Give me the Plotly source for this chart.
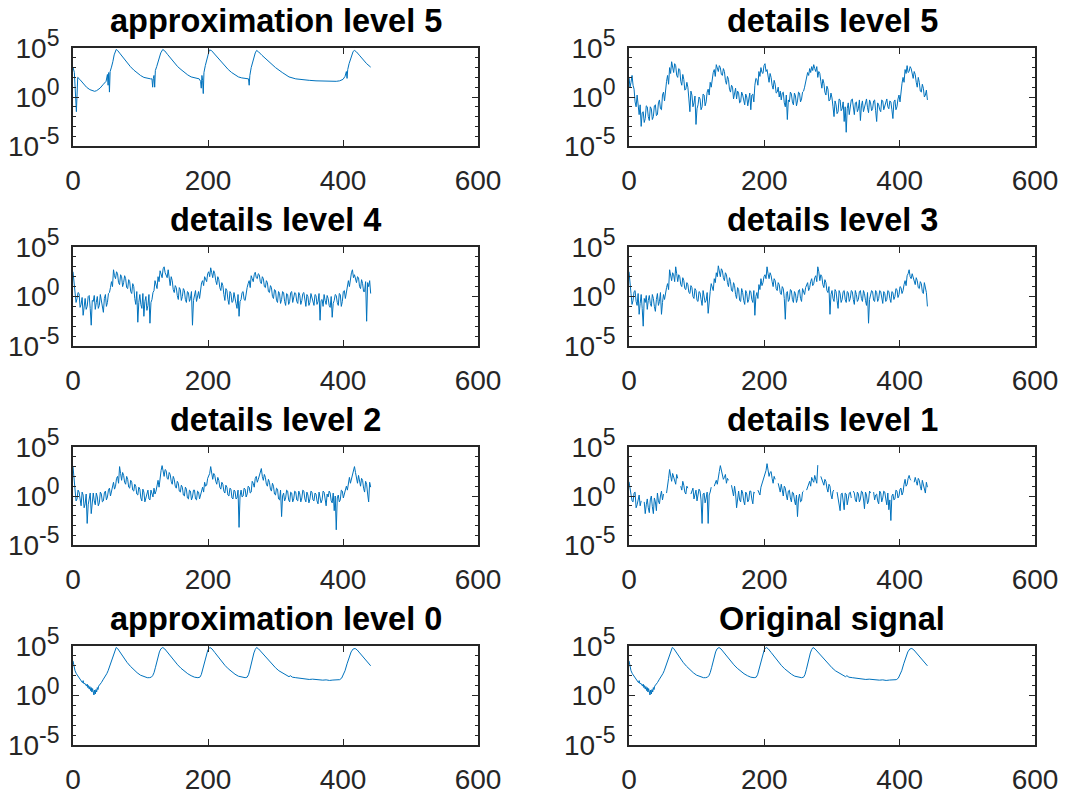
import plotly.graph_objects as go

# ---------------- data (log10 of the plotted values) ----------------
# smooth signal (original signal == approximation level 0)
sig_x = [0, 1, 3, 5, 8, 10, 12, 14, 15, 16, 18, 20, 21, 22, 23, 24, 25, 26, 27, 28,
         29, 30, 31, 32, 33, 34, 35, 36, 37, 38, 40, 42, 45, 48, 50, 52, 54, 56, 58, 60,
         62, 64, 66, 68, 70, 75, 80, 85, 90, 95, 100, 105, 110, 113, 116, 118, 120, 122, 124, 126,
         128, 130, 133, 136, 140, 145, 150, 155, 160, 165, 170, 175, 180, 185, 188, 190, 192, 194, 196, 198,
         200, 203, 206, 210, 215, 220, 225, 230, 235, 240, 245, 250, 255, 258, 260, 262, 264, 266, 268, 270,
         272, 275, 280, 285, 290, 295, 300, 305, 310, 315, 318, 320, 322, 325, 330, 340, 345, 350, 355, 360,
         370, 375, 380, 385, 390, 395, 398, 400, 403, 406, 409, 412, 415, 418, 421, 425, 430, 435, 441]
sig_log = [3.5, 3.0, 2.5, 2.2, 1.9, 1.7, 1.55, 1.3, 1.5, 1.2, 1.2, 0.95, 1.15, 0.8, 1.0, 0.65, 0.9, 0.5, 0.8, 0.35,
           0.7, 0.25, 0.05, 0.55, 0.15, 0.6, 0.35, 0.8, 0.6, 0.95, 1.1, 1.3, 1.65, 1.95, 2.2, 2.5, 2.9, 3.3, 3.75, 4.2,
           4.6, 4.85, 4.75, 4.55, 4.3, 3.8, 3.35, 2.95, 2.6, 2.3, 2.05, 1.9, 1.8, 1.8, 1.85, 2.0, 2.3, 2.8, 3.4, 3.9,
           4.4, 4.7, 4.85, 4.7, 4.35, 3.9, 3.5, 3.1, 2.75, 2.45, 2.2, 2.0, 1.85, 1.8, 1.85, 2.1, 2.6, 3.2, 3.8, 4.3,
           4.65, 4.85, 4.7, 4.35, 3.9, 3.45, 3.05, 2.7, 2.4, 2.15, 1.95, 1.85, 1.8, 1.85, 2.1, 2.6, 3.2, 3.8, 4.3, 4.65,
           4.85, 4.7, 4.3, 3.9, 3.5, 3.15, 2.8, 2.5, 2.3, 2.1, 2.05, 1.9, 2.0, 1.85, 1.8, 1.7, 1.72, 1.62, 1.65, 1.6,
           1.55, 1.58, 1.52, 1.56, 1.55, 1.6, 1.75, 2.0, 2.5, 3.2, 3.9, 4.4, 4.7, 4.75, 4.6, 4.3, 3.85, 3.45, 3.0]

# approximation level 5
a5_x = [0, 2, 5, 7, 10, 15, 20, 25, 30, 32, 35, 40, 45, 49, 51, 52, 53, 54, 55, 56,
        57, 59, 61, 64, 66, 70, 75, 80, 85, 90, 95, 100, 105, 110, 115, 117, 118, 119, 120, 121,
        122, 124, 127, 130, 133, 136, 140, 145, 150, 155, 160, 165, 170, 175, 180, 187, 189, 190, 191, 192,
        193, 194, 196, 199, 202, 205, 210, 215, 220, 225, 230, 235, 240, 245, 250, 258, 260, 261, 262, 264,
        267, 270, 272, 275, 280, 290, 300, 310, 320, 330, 340, 350, 360, 370, 380, 390, 395, 400, 403, 405,
        406, 407, 409, 412, 415, 417, 420, 425, 430, 435, 441]
a5_log = [3.05, 2.5, -1.5, 2.0, 1.8, 1.35, 1.0, 0.75, 0.6, 0.58, 0.65, 0.9, 1.3, 1.6, 2.3, 1.2, 2.5, 0.5, 2.6, 3.0,
          3.05, 3.6, 4.3, 4.85, 4.75, 4.4, 3.95, 3.5, 3.1, 2.75, 2.45, 2.2, 2.0, 1.9, 1.85, 1.85, 1.0, 1.9, 2.2, 1.0,
          2.7, 3.1, 3.8, 4.5, 4.85, 4.7, 4.35, 3.9, 3.5, 3.1, 2.8, 2.5, 2.25, 2.05, 1.95, 1.85, 1.6, 0.9, 2.2, 1.7,
          0.35, 2.5, 3.2, 4.1, 4.8, 4.75, 4.35, 3.9, 3.5, 3.15, 2.8, 2.5, 2.25, 2.05, 1.95, 1.85, 1.85, 1.2, 2.2, 3.0,
          3.8, 4.5, 4.75, 4.6, 4.25, 3.6, 3.0, 2.5, 2.05, 1.85, 1.75, 1.7, 1.65, 1.62, 1.6, 1.6, 1.65, 1.8, 2.1, 2.6,
          1.9, 2.8, 3.4, 4.1, 4.65, 4.75, 4.6, 4.2, 3.8, 3.4, 3.05]

# detail coefficients: "main" samples at x = 0, 3, ..., 441 and "mid" samples at x = 1.5, 4.5, ..., 439.5
# (None = value not drawable on the log axis)
d5_main = [2.0, 1.5, 1.2, -0.5, 0.2, -1.8, -3.0, -1.5, -2.2, -1.0,
           -2.4, -1.2, -2.0, -0.8, -1.8, -0.3, -1.3, 0.5, 0.8, 2.2,
           3.0, 3.6, 2.5, 3.2, 2.0, 2.8, 1.2, 1.8, 0.8, 1.0,
           -1.5, 0.2, -0.6, -2.8, -0.8, -0.2, -1.0, 0.2, -0.5, 0.8,
           1.5, 2.0, 2.8, 3.3, 2.6, 3.0, 2.2, 2.6, 1.3, 1.8,
           0.5, 1.0, 0.3, -0.2, 0.4, -0.5, 0.2, -0.8, 0.0, -0.4,
           -1.3, 0.3, 1.2, 1.8, 2.6, 3.0, 2.4, 3.4, 2.8, 1.5,
           2.0, 0.8, 1.3, 0.5, 0.0, -0.3, 0.5, -1.0, -2.3, -0.5,
           0.3, -0.8, 0.1, -0.4, 0.4, -0.2, 0.6, 1.5, 2.5, 2.9,
           3.1, 3.3, 2.6, 2.0, 2.4, 0.9, 1.4, 0.2, 0.8, -0.3,
           -0.1, -2.0, -0.8, -1.5, -0.3, -1.2, -2.5, -3.6, -0.6, -1.0,
           -0.2, -1.8, -0.5, -1.2, -2.4, -0.4, -1.0, -0.2, -1.6, -0.6,
           -1.2, -0.3, -2.5, -0.8, -1.5, -0.4, -1.0, -0.2, -1.2, -0.5,
           -2.2, -0.3, -1.0, 0.2, 0.8, 2.0, 2.8, 3.2, 2.6, 2.9,
           1.9, 2.3, 1.0, 1.5, 0.5, 0.9, 0.2, -0.3]
d5_mid = [1.0, 2.2, 0.8, -1.0, -0.6, -0.8, -1.6, -2.6, -0.9, -2.0,
          -1.0, -2.3, -0.9, -1.9, -0.6, -1.2, 0.2, -0.4, 1.6, 1.3,
          2.4, 3.1, 3.4, 2.2, 2.9, 1.6, 2.3, 0.7, 1.5, -0.2,
          0.6, -1.0, 0.1, -1.2, 0.0, -1.3, 0.3, -0.9, 0.5, 0.2,
          1.0, 2.5, 2.1, 2.9, 3.2, 2.3, 2.9, 1.7, 2.1, 0.8,
          1.2, -0.2, 0.9, 0.6, -0.6, 0.5, -0.4, 0.3, -0.9, 0.4,
          0.2, -0.5, 1.9, 1.2, 2.1, 2.5, 3.2, 2.6, 2.0, 2.4,
          1.2, 1.7, 0.4, 1.0, 0.6, 0.4, -0.6, 0.2, -0.3, 0.5,
          -0.5, 0.4, -0.9, 0.5, -0.5, 0.5, 1.0, 2.0, 2.2, 2.5,
          2.7, 2.9, 3.1, 2.6, 1.6, 1.8, 0.5, 1.1, -0.4, 0.4,
          -1.0, -0.4, -1.7, -0.2, -1.4, -0.5, -1.0, -1.2, -1.8, -0.3,
          -1.1, -0.6, -1.5, -0.3, -0.9, -1.5, -0.4, -1.1, -0.3, -1.4,
          -0.4, -1.4, -0.6, -1.3, -0.3, -1.3, -0.5, -1.0, -0.4, -1.3,
          -0.5, -1.3, -0.2, -0.5, 1.4, 1.5, 2.4, 2.5, 3.1, 2.2,
          2.6, 1.5, 2.0, 0.6, 1.3, 0.0, 0.7]

d4_main = [2.5, 0.6, -0.2, 0.3, -0.8, -1.9, -0.2, -1.0, 0.1, -2.9,
           -0.5, -1.3, 0.0, -0.9, -0.3, -1.6, 0.2, -0.6, 0.4, 1.5,
           2.7, 1.8, 2.3, 1.2, 2.0, 1.4, 1.8, 0.8, 1.5, 0.3,
           1.0, -0.8, -2.6, 0.2, -1.2, -2.0, 0.0, -0.9, -2.7, -0.3,
           0.6, 1.2, 2.0, 2.6, 1.9, 3.0, 2.2, 2.7, 1.1, 1.6,
           0.4, 0.9, -0.3, 0.7, 0.0, 0.6, -0.6, 0.4, -0.2, -2.9,
           0.1, -0.5, 0.5, 0.9, 1.6, 2.0, 1.5, 2.5, 2.9, 1.9,
           2.3, 1.2, 1.7, 0.6, 1.1, -0.4, 0.6, -0.8, 0.3, -0.5,
           0.0, -1.2, -2.0, -0.3, 0.5, -0.4, 0.9, 1.6, 2.1, 1.5,
           2.45, 1.8, 2.2, 1.3, 1.8, 0.9, 1.4, 0.4, 0.9, -0.2,
           0.6, -0.6, 0.3, -0.3, 0.4, -0.9, 0.2, -0.5, 0.5, -0.2,
           0.3, -0.7, 0.1, -0.4, 0.4, -1.0, 0.0, -0.6, -0.1, -0.9,
           0.1, -0.5, -2.4, -0.3, 0.2, -0.8, -0.2, -1.1, -2.1, -0.4,
           0.1, -0.9, 0.2, -0.5, 0.6, 0.4, 1.6, 2.1, 2.7, 2.2,
           1.4, 1.9, 0.8, 1.3, 0.5, -2.5, 1.0, 0.3]
d4_mid = [1.2, -0.6, 0.4, -1.1, -0.1, -0.7, -1.3, 0.0, -1.2, -0.4,
          0.1, -0.6, -1.2, 0.2, -1.0, -0.2, -1.0, 0.3, 0.9, 1.0,
          2.1, 2.5, 1.4, 2.2, 1.0, 2.1, 0.9, 1.7, 0.5, 1.3,
          -0.2, 0.5, -0.6, -0.8, 0.3, -0.5, -1.4, 0.2, -0.6, 0.4,
          1.6, 0.8, 1.5, 2.2, 2.8, 2.4, 1.9, 1.6, 2.0, 0.7,
          1.1, 0.1, 0.9, -0.4, 0.8, -0.3, 0.5, -0.5, 0.5, -0.4,
          0.6, 0.2, -0.2, 1.4, 1.1, 1.7, 2.3, 2.0, 2.4, 2.6,
          1.6, 2.0, 0.9, 1.4, 0.2, 0.8, -0.3, 0.5, -0.6, 0.4,
          -0.7, 0.2, -0.5, 0.4, -0.3, 0.6, 1.3, 0.9, 1.8, 2.2,
          1.9, 2.3, 1.5, 2.0, 1.0, 1.6, 0.5, 1.1, 0.0, 0.7,
          -0.4, 0.5, -0.7, 0.5, -0.5, 0.3, -0.8, 0.4, -0.6, 0.4,
          -0.5, 0.4, -0.8, 0.3, -0.6, 0.2, -0.9, 0.3, -0.5, 0.2,
          -0.8, 0.3, -0.4, -1.0, -0.4, 0.1, -0.9, 0.0, -0.7, 0.2,
          -0.6, 0.3, -1.0, 0.5, -0.2, 1.2, 1.0, 2.4, 1.9, 1.6,
          2.0, 1.0, 1.7, 0.5, 1.5, 1.4, 1.6]

d3_main = [2.5, 0.3, -0.4, 0.6, -0.9, -1.8, 0.2, -3.0, -0.6, -1.3,
           0.1, -1.0, -0.2, -1.5, 0.3, -0.5, -1.8, 0.2, 0.5, 1.3,
           2.7, 1.6, 2.2, 3.0, 1.5, 2.0, 1.0, 1.6, 0.7, 1.2,
           0.3, 0.9, -0.2, 0.6, -0.5, 0.4, -0.9, 0.1, -0.4, -1.7,
           0.5, 1.0, 1.8, 2.4, 3.1, 2.0, 2.6, 1.6, 2.2, 1.0,
           1.5, 0.5, 1.1, -0.2, 0.7, -0.5, 0.4, -0.8, 0.3, -0.3,
           0.5, -0.6, -1.9, 0.4, 1.2, 1.8, 1.4, 2.2, 3.0, 1.8,
           2.1, 1.0, 1.6, 0.6, 1.2, 0.2, 0.8, -2.3, 0.5, -0.3,
           0.6, -0.6, 0.3, -0.2, 0.7, -0.5, 0.4, 0.9, 1.4, 0.9,
           1.8, 1.3, 2.1, 3.0, 1.6, 2.0, 0.9, 1.4, 0.4, -1.8,
           0.6, -0.5, 0.5, -1.2, 0.3, -0.3, 0.6, -0.6, 0.4, -0.2,
           0.5, -0.8, 0.2, -0.3, 0.6, -0.5, 0.3, -0.9, -2.7, 0.1,
           0.5, -0.5, 0.4, -0.2, 0.5, -0.7, 0.3, -0.3, 0.5, -0.6,
           0.4, 0.0, 0.7, 0.2, 0.9, 0.6, 1.6, 2.1, 2.7, 1.8,
           2.0, 1.2, 1.6, 0.8, 1.3, 0.3, 1.0, -1.0]
d3_mid = [1.0, -0.8, 0.5, -0.5, 0.3, -0.7, -1.2, -0.2, 0.1, -0.4,
          -0.7, 0.2, -1.0, -0.3, -0.9, 0.4, -0.6, -0.3, 0.9, 0.7,
          1.9, 2.4, 1.5, 2.3, 2.2, 1.2, 1.9, 0.8, 1.4, 0.4,
          1.1, 0.0, 0.8, -0.4, 0.5, -0.3, 0.6, -0.6, 0.4, 0.0,
          1.3, 0.6, 1.4, 2.0, 2.5, 2.8, 1.9, 2.4, 1.4, 1.9,
          0.6, 1.4, 0.2, 0.9, -0.4, 0.8, -0.4, 0.6, -0.6, 0.6,
          -0.3, 0.6, 0.0, -0.2, 0.7, 1.1, 2.0, 1.8, 2.3, 2.4,
          1.5, 1.8, 0.8, 1.4, 0.4, 1.0, -0.2, 0.3, -0.5, 0.7,
          -0.3, 0.5, -0.6, 0.6, -0.2, 0.8, 0.2, 1.1, 0.6, 1.5,
          1.1, 1.9, 1.5, 2.5, 2.2, 1.2, 1.7, 0.6, 1.0, 0.2,
          -0.2, 0.7, -0.4, 0.6, -0.6, 0.5, -0.3, 0.5, -0.5, 0.6,
          -0.3, 0.6, -0.5, 0.5, -0.2, 0.6, -0.4, 0.4, -0.3, 0.6,
          -0.4, 0.6, -0.5, 0.6, -0.3, 0.5, -0.5, 0.6, -0.2, 0.5,
          -0.3, 0.8, -0.1, 1.0, 0.3, 1.2, 1.1, 2.3, 2.0, 2.3,
          1.5, 1.9, 0.9, 1.5, 0.5, 1.4, 0.4]

d2_main = [3.0, 0.5, -0.3, 0.4, -1.0, 0.1, -0.8, -2.8, -0.2, -1.8,
           0.3, -0.9, -0.1, -0.7, 0.2, -0.5, 0.5, -0.1, 0.8, 0.5,
           1.4, 1.0, 2.0, 3.0, 1.6, 2.1, 1.2, 1.7, 0.8, 1.4,
           0.5, 1.0, 0.1, 0.7, -0.5, 0.4, -0.2, 0.6, -0.4, 0.3,
           0.8, 0.5, 1.6, 2.2, 3.1, 2.0, 2.6, 1.7, 2.2, 1.2,
           1.7, 0.8, 1.3, 0.4, 0.9, 0.0, 0.7, -0.3, 0.5, -0.1,
           0.6, -0.4, 0.4, 0.1, 0.9, 1.4, 1.1, 2.0, 3.0, 1.7,
           2.1, 1.2, 1.6, 0.7, 1.2, 0.3, 0.9, 0.0, 0.7, -0.3,
           0.5, -0.2, -3.2, 0.6, 0.0, 0.7, 0.2, 0.9, 0.4, 1.3,
           1.8, 1.4, 2.0, 2.8, 1.6, 1.9, 1.0, 1.4, 0.5, 1.0,
           0.1, 0.7, -0.4, -2.1, 0.3, -0.2, 0.5, -0.6, 0.3, -0.3,
           0.4, -0.5, 0.2, -0.2, 0.5, -0.6, 0.1, -0.3, 0.4, -0.5,
           0.2, -0.8, 0.0, -0.4, 0.4, -1.0, -0.1, 0.3, -0.7, -1.5,
           -3.45, 0.1, -0.4, 0.5, 0.2, 1.0, 1.5, 1.3, 2.2, 3.0,
           1.8, 2.1, 1.0, 1.6, 0.4, 1.2, -0.6, 0.9]
d2_mid = [1.5, -0.5, 0.6, -0.6, 0.4, -1.2, 0.2, -0.9, 0.3, -0.4,
          -0.5, 0.3, -1.0, 0.4, -0.6, 0.3, -0.4, 0.6, 0.0, 1.0,
          0.7, 1.8, 1.3, 2.3, 2.4, 1.4, 2.0, 0.9, 1.6, 0.6,
          1.2, 0.2, 0.9, -0.2, 0.7, -0.6, 0.5, -0.3, 0.6, -0.1,
          0.2, 1.2, 0.9, 2.6, 2.4, 2.7, 1.8, 2.4, 1.5, 2.0,
          1.0, 1.5, 0.5, 1.1, 0.1, 0.9, -0.2, 0.6, -0.4, 0.6,
          -0.3, 0.5, -0.3, 0.7, 0.4, 1.0, 1.8, 2.3, 2.1, 2.3,
          1.5, 1.9, 0.9, 1.4, 0.5, 1.1, 0.1, 0.8, -0.2, 0.6,
          -0.3, 0.6, 0.0, -0.1, 0.8, -0.1, 1.0, 0.3, 1.5, 0.9,
          2.0, 1.7, 2.4, 2.0, 2.2, 1.2, 1.7, 0.7, 1.3, 0.2,
          0.8, -0.3, 0.6, 0.0, -0.5, 0.6, -0.4, 0.4, -0.6, 0.5,
          -0.4, 0.5, -0.6, 0.6, -0.3, 0.4, -0.7, 0.5, -0.4, 0.3,
          -0.5, 0.4, -0.7, 0.5, -0.4, 0.2, 0.5, -0.5, 0.3, 0.0,
          -0.2, -0.6, 0.6, -0.2, 0.9, 0.6, 1.9, 1.8, 2.6, 2.4,
          1.3, 1.5, 1.8, 0.8, 1.5, 0.2, 1.4]

d1_main = [1.45, 0.2, -0.6, 0.4, -0.9, 0.1, -0.5, None, -1.8, -0.3,
           -1.7, 0.0, -1.8, -0.6, 0.3, -0.8, 0.5, 0.2, None, 0.9,
           2.7, 1.5, 2.0, 1.2, 1.8, None, 0.6, 1.1, 0.2, 0.8,
           None, 0.5, -0.3, 0.6, 0.0, 0.5, -2.8, 0.3, -0.2, -2.8,
           0.4, None, 1.0, 1.6, 2.2, 3.1, 2.4, 1.9, 1.3, 1.6,
           None, 0.6, 1.0, -1.2, 0.5, -0.6, 0.3, -0.9, 0.2, -0.4,
           0.5, -0.8, 0.3, None, 0.2, 0.9, 1.5, 2.2, 3.3, 2.0,
           2.5, 1.3, 1.7, None, 0.8, 1.2, 0.0, 0.8, -0.4, 0.6,
           -0.6, 0.3, -0.9, -2.1, 0.2, -0.5, 0.5, None, 1.0, 1.5,
           1.9, 1.4, 1.8, 3.15, None, 1.6, 1.1, 1.5, 0.4, 1.0,
           -0.3, 0.6, None, -0.2, -1.5, 0.3, -1.4, 0.2, -0.4, 0.4,
           None, 0.3, -0.6, 0.2, -0.3, 0.4, -1.3, 0.1, -0.5, 0.3,
           None, -0.4, 0.2, -0.8, 0.3, -0.2, 0.4, -0.9, -1.4, -2.5,
           0.2, -0.3, 0.5, 0.0, 0.8, 0.4, 1.7, 1.2, 2.1, 1.6,
           None, 1.9, 1.1, 1.6, 0.6, 1.2, 0.3, 0.9]
d1_mid = [0.8, -0.5, 0.3, -1.2, -0.3, -1.0, None, -0.6, -0.9, -1.2,
          -0.4, -1.1, -0.2, -1.5, -0.5, 0.0, -0.4, None, 0.3, 1.8,
          2.0, 2.3, 1.6, 2.2, None, 1.0, 1.5, 0.4, 1.0, None,
          0.2, 0.8, 0.1, -0.5, 0.7, -0.4, 0.2, -0.7, 0.4, 0.1,
          0.9, None, 1.4, 1.2, 2.5, 2.6, 1.7, 2.2, 1.8, None,
          1.1, 0.0, 0.3, -0.2, -0.4, 0.6, -0.5, 0.4, -0.6, 0.5,
          -0.3, 0.4, None, 0.6, 0.1, 1.2, 1.9, 2.6, 2.5, 2.4,
          1.8, 2.0, None, 1.3, 0.4, 0.6, 1.0, 0.1, 0.5, -0.2,
          0.4, -0.4, 0.1, -0.3, -0.6, 0.4, None, 0.6, 1.3, 1.0,
          1.6, 2.1, 1.3, None, 2.0, 1.4, 1.7, 0.8, 1.2, 0.1,
          0.5, None, 0.4, -0.7, 0.2, -0.5, 0.3, -0.9, 0.3, -0.2,
          0.5, -0.4, 0.4, -0.6, 0.5, -0.3, 0.4, -0.8, 0.5, None,
          0.4, 0.1, -0.5, 0.5, -0.6, 0.5, -0.3, 0.3, -0.4, 0.0,
          -0.4, 0.6, -0.2, 0.7, 0.1, 1.2, 1.0, 1.8, 1.7, None,
          1.4, 1.5, 1.8, 1.0, 1.6, 0.6, 1.4]

detail_half_step = 1.5

titles = ["approximation level 5", "details level 5",
          "details level 4", "details level 3",
          "details level 2", "details level 1",
          "approximation level 0", "Original signal"]

x_ticks = [0, 200, 400, 600]
y_tick_exp = [-5, 0, 5]
y_minor_exp = [-4, -3, -2, -1, 1, 2, 3, 4]


def to_lin(vals):
    return [None if v is None else 10 ** v for v in vals]


def detail(main, mid):
    vals = []
    for k, v in enumerate(main):
        vals.append(v)
        if k < len(mid):
            vals.append(mid[k])
    xs = [k * detail_half_step for k in range(len(vals))]
    return xs, vals


series = [
    (a5_x, a5_log),
    detail(d5_main, d5_mid),
    detail(d4_main, d4_mid),
    detail(d3_main, d3_mid),
    detail(d2_main, d2_mid),
    detail(d1_main, d1_mid),
    (sig_x, sig_log),
    (sig_x, sig_log),
]

# ---------------- layout ----------------
W, H = 1086, 795
col_px = [(73, 478), (629, 1035)]
row_px = [(48, 146), (247, 346), (447, 545), (646, 745)]
AX = "#262626"
FONT = "Liberation Sans, Arial, Helvetica, sans-serif"

fig = go.Figure()
annotations = []
layout = {}

for i, ((xs, ys), title) in enumerate(zip(series, titles)):
    r, c = divmod(i, 2)
    n = i + 1
    xd = [col_px[c][0] / W, col_px[c][1] / W]
    yd = [1 - row_px[r][1] / H, 1 - row_px[r][0] / H]
    xname = "x" if n == 1 else f"x{n}"
    yname = "y" if n == 1 else f"y{n}"
    fig.add_trace(go.Scatter(
        x=xs, y=to_lin(ys), mode="lines",
        line=dict(color="#0072BD", width=1.0),
        connectgaps=False, showlegend=False,
        xaxis=xname, yaxis=yname, hoverinfo="skip"))
    layout["xaxis" if n == 1 else f"xaxis{n}"] = dict(
        domain=xd, anchor=yname, range=[0, 600], automargin=False,
        tickmode="array", tickvals=x_ticks, ticktext=[str(v) for v in x_ticks],
        ticks="inside", ticklen=6, tickwidth=1.2, tickcolor=AX,
        showline=True, linecolor=AX, linewidth=1.8, mirror="allticks",
        showgrid=False, zeroline=False,
        tickfont=dict(family=FONT, size=28, color=AX),
        ticklabelstandoff=8,
    )
    layout["yaxis" if n == 1 else f"yaxis{n}"] = dict(
        domain=yd, anchor=xname, type="log", range=[-5, 5], automargin=False,
        tickmode="array", tickvals=[10.0 ** e for e in y_tick_exp],
        ticktext=[f"10<sup><span style='font-size:23px'>{e}</span></sup>" for e in y_tick_exp],
        ticks="inside", ticklen=6, tickwidth=1.2, tickcolor=AX,
        minor=dict(tickmode="array", tickvals=[10.0 ** e for e in y_minor_exp],
                   ticks="inside", ticklen=3, tickwidth=1.2, tickcolor=AX),
        showline=True, linecolor=AX, linewidth=1.8, mirror="allticks",
        showgrid=False, zeroline=False,
        tickfont=dict(family=FONT, size=28, color=AX),
        ticklabelstandoff=6,
    )
    annotations.append(dict(
        text=f"<b>{title}</b>", xref="paper", yref="paper",
        x=(xd[0] + xd[1]) / 2, y=yd[1], xanchor="center", yanchor="bottom",
        yshift=7, showarrow=False,
        font=dict(family=FONT, size=32.5, color="#000000")))

fig.update_layout(
    width=W, height=H, margin=dict(l=0, r=0, t=0, b=0, autoexpand=False),
    paper_bgcolor="white", plot_bgcolor="white",
    annotations=annotations, **layout)

fig.write_html("out.html")
